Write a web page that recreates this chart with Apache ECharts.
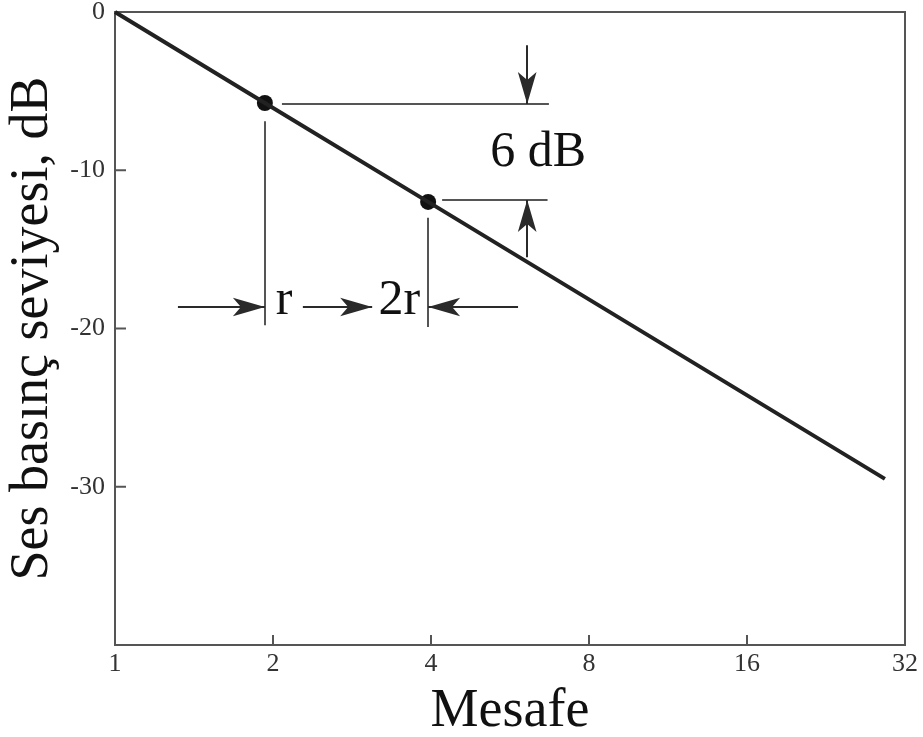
<!DOCTYPE html>
<html>
<head>
<meta charset="utf-8">
<script src="https://cdn.jsdelivr.net/npm/echarts@6/dist/echarts.min.js"></script>
<style>
  html, body { margin: 0; padding: 0; background: #fff; }
  #chart { width: 923px; height: 737px; }
</style>
</head>
<body>
<div id="chart"></div>
<script>
// Sound pressure level falling 6 dB per doubling of distance
const distance = [1, 1.93, 3.95, 29.3];
const level = [0, -5.75, -12, -29.5];

// Highlighted points r and 2r
const markDistance = [1.93, 3.95];
const markLevel = [-5.75, -12];

// Axis ticks
const xTicks = [1, 2, 4, 8, 16, 32];
const yTicks = [0, -10, -20, -30];
const yMin = -40;

// Dimension lines for the 6 dB step (data coordinates)
const stepTopLine = [[2.08, -5.81], [6.71, -5.81]];
const stepBottomLine = [[4.2, -11.88], [6.67, -11.88]];
const stepDownArrow = [[6.1, -2.1], [6.1, -5.81]];
const stepUpArrow = [[6.1, -15.5], [6.1, -11.88]];

// Dimension lines for the distance doubling r -> 2r
const rExtension = [[1.93, -6.9], [1.93, -19.8]];
const r2Extension = [[3.95, -13.0], [3.95, -19.9]];
const rArrow = [[1.318, -18.64], [1.93, -18.64]];
const rTo2rArrow = [[2.28, -18.64], [3.09, -18.64]];
const r2Arrow = [[5.86, -18.64], [3.95, -18.64]];

// Annotation texts
const noteText = ['6 dB', 'r', '2r'];
const noteDistance = [6.4, 2.1, 3.48];
const noteLevel = [-8.9, -18.26, -18.26];

const serif = 'Liberation Serif';
const axisColor = '#555';
const chart = echarts.init(document.getElementById('chart'));

const plainLine = (pts) => [
  { coord: pts[0], symbol: 'none' },
  { coord: pts[1], symbol: 'none' }
];
const arrowLine = (pts) => [
  { coord: pts[0], symbol: 'none' },
  { coord: pts[1], symbol: 'arrow', symbolSize: [14, 32] }
];

// Inward tick marks: [distance, level, 1 = bottom axis / 0 = left axis]
const tickMarks = [
  ...xTicks.slice(1, -1).map((t) => [t, yMin, 1]),
  ...yTicks.slice(1).map((v) => [xTicks[0], v, 0])
];

chart.setOption({
  animation: false,
  grid: {
    left: 115, right: 18, top: 12, bottom: 92,
    outerBoundsMode: 'none',
    show: true, borderColor: axisColor, borderWidth: 2
  },
  xAxis: {
    type: 'log',
    logBase: 2,
    min: xTicks[0],
    max: xTicks[xTicks.length - 1],
    name: 'Mesafe',
    nameLocation: 'middle',
    nameGap: 40,
    nameTextStyle: { fontFamily: serif, fontSize: 54, color: '#111' },
    axisLine: { show: true, onZero: false, lineStyle: { color: axisColor, width: 2 } },
    axisTick: { show: false },
    splitLine: { show: false },
    axisLabel: {
      margin: 6,
      fontFamily: serif, fontSize: 26, color: '#333',
      formatter: (v) => String(Math.round(v))
    }
  },
  yAxis: {
    type: 'value',
    min: yMin,
    max: 0,
    interval: 10,
    name: 'Ses basınç seviyesi, dB',
    nameLocation: 'middle',
    nameGap: 55,
    nameTextStyle: { fontFamily: serif, fontSize: 54, color: '#111' },
    axisLine: { show: true, onZero: false, lineStyle: { color: axisColor, width: 2 } },
    axisTick: { show: false },
    splitLine: { show: false },
    axisLabel: {
      margin: 10,
      fontFamily: serif, fontSize: 26, color: '#333',
      formatter: (v) => (yTicks.includes(v) ? String(v) : '')
    }
  },
  series: [
    {
      type: 'line',
      data: distance.map((d, i) => [d, level[i]]),
      showSymbol: false,
      lineStyle: { color: '#222', width: 4 }
    },
    {
      type: 'scatter',
      data: markDistance.map((d, i) => [d, markLevel[i]]),
      symbolSize: 16,
      itemStyle: { color: '#111', opacity: 1 }
    },
    {
      // tick marks pointing into the plot
      type: 'custom',
      data: tickMarks,
      clip: false,
      silent: true,
      z: 10,
      encode: { x: 0, y: 1 },
      renderItem: (params, api) => {
        const p = api.coord([api.value(0), api.value(1)]);
        const bottom = api.value(2) === 1;
        return {
          type: 'line',
          shape: bottom
            ? { x1: p[0], y1: p[1], x2: p[0], y2: p[1] - 10 }
            : { x1: p[0], y1: p[1], x2: p[0] + 11, y2: p[1] },
          style: { stroke: axisColor, lineWidth: 2 }
        };
      }
    },
    {
      // extension and dimension lines
      type: 'line',
      data: [],
      markLine: {
        silent: true,
        label: { show: false },
        lineStyle: { color: axisColor, width: 2, type: 'solid' },
        data: [
          plainLine(stepTopLine),
          plainLine(stepBottomLine),
          plainLine(rExtension),
          plainLine(r2Extension)
        ]
      }
    },
    {
      // arrows
      type: 'line',
      data: [],
      markLine: {
        silent: true,
        label: { show: false },
        lineStyle: { color: '#2a2a2a', width: 2, type: 'solid' },
        data: [
          arrowLine(stepDownArrow),
          arrowLine(stepUpArrow),
          arrowLine(rArrow),
          arrowLine(rTo2rArrow),
          arrowLine(r2Arrow)
        ]
      }
    },
    {
      type: 'scatter',
      data: noteText.map((t, i) => ({ value: [noteDistance[i], noteLevel[i]], name: t })),
      symbolSize: 0,
      silent: true,
      itemStyle: { opacity: 1 },
      label: {
        show: true,
        position: 'inside',
        formatter: (p) => p.name,
        fontFamily: serif,
        fontSize: 50,
        color: '#111'
      }
    }
  ]
});
</script>
</body>
</html>
